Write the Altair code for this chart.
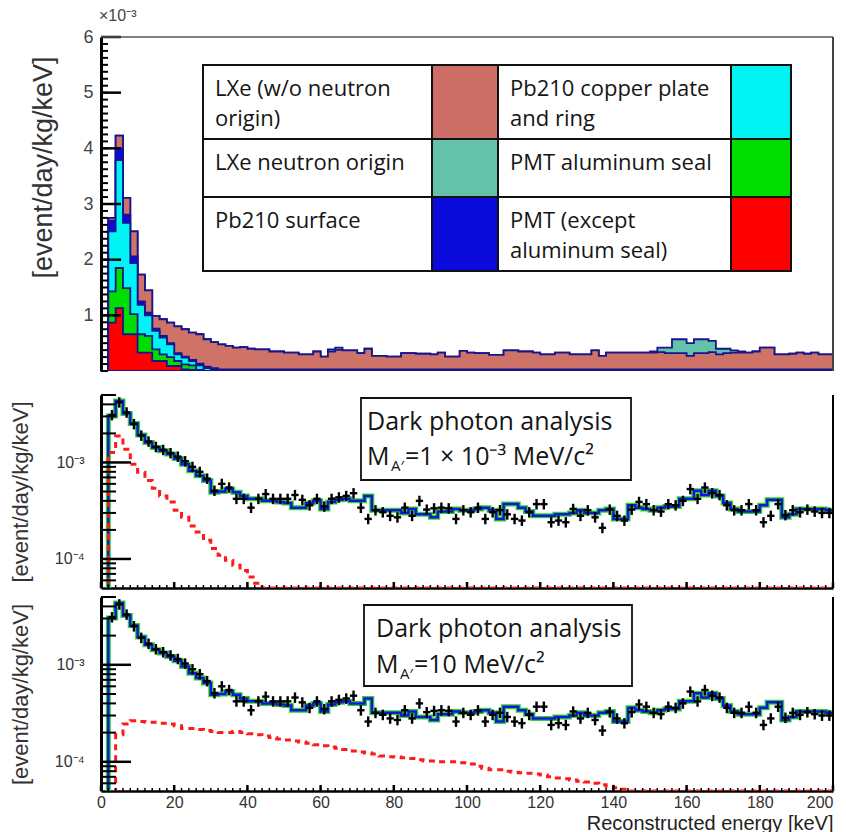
import altair as alt
import pandas as pd

# ---------------- data ----------------
bin_lo = list(range(0, 200, 2))  # 2 keV bins, lower edges

# top panel: read upper boundaries of each stacked layer (units of 1e-3)
top_total = [0.00, 2.75, 4.23, 3.11, 2.51, 1.73, 1.45, 0.99, 0.93, 0.87,
             0.80, 0.75, 0.69, 0.66, 0.57, 0.52, 0.48, 0.45, 0.42, 0.43,
             0.40, 0.39, 0.39, 0.35, 0.35, 0.33, 0.33, 0.30, 0.30, 0.35,
             0.26, 0.39, 0.42, 0.37, 0.37, 0.32, 0.40, 0.27, 0.27, 0.26,
             0.26, 0.32, 0.32, 0.31, 0.31, 0.30, 0.33, 0.26, 0.26, 0.36,
             0.33, 0.32, 0.32, 0.29, 0.29, 0.37, 0.37, 0.35, 0.35, 0.33,
             0.30, 0.30, 0.33, 0.33, 0.30, 0.30, 0.30, 0.37, 0.27, 0.33,
             0.33, 0.33, 0.33, 0.33, 0.33, 0.35, 0.42, 0.42, 0.57, 0.57,
             0.50, 0.57, 0.57, 0.54, 0.40, 0.40, 0.37, 0.35, 0.33, 0.35,
             0.42, 0.42, 0.30, 0.30, 0.31, 0.33, 0.31, 0.33, 0.30, 0.30]
top_rose = [0.00, 2.75, 4.23, 3.11, 2.51, 1.73, 1.45, 0.99, 0.93, 0.87,
            0.80, 0.75, 0.69, 0.66, 0.57, 0.52, 0.48, 0.45, 0.42, 0.43,
            0.40, 0.39, 0.39, 0.35, 0.35, 0.33, 0.33, 0.30, 0.30, 0.35,
            0.26, 0.35, 0.38, 0.37, 0.37, 0.32, 0.40, 0.27, 0.27, 0.26,
            0.26, 0.32, 0.32, 0.31, 0.31, 0.30, 0.33, 0.26, 0.26, 0.36,
            0.33, 0.32, 0.32, 0.29, 0.29, 0.37, 0.37, 0.35, 0.35, 0.33,
            0.30, 0.30, 0.33, 0.33, 0.30, 0.30, 0.30, 0.37, 0.27, 0.33,
            0.33, 0.33, 0.33, 0.33, 0.33, 0.33, 0.34, 0.32, 0.32, 0.32,
            0.27, 0.32, 0.32, 0.34, 0.30, 0.32, 0.33, 0.33, 0.33, 0.35,
            0.42, 0.42, 0.30, 0.30, 0.31, 0.33, 0.31, 0.33, 0.30, 0.30]
top_blue = [0, 2.70, 4.00, 2.81, 2.06, 1.25, 1.05, 0.76, 0.63, 0.50,
            0.32, 0.26, 0.20, 0.13, 0.08, 0.05] + [0.03] * 84
top_cyan = [0, 2.51, 3.79, 2.66, 1.94, 1.19, 1.00, 0.72, 0.60, 0.48,
            0.30, 0.24, 0.18, 0.10, 0.05, 0.02] + [0.01] * 84
top_green = [0, 1.43, 1.85, 1.49, 1.02, 0.66, 0.63, 0.39, 0.30, 0.25,
             0.18, 0.12, 0.10, 0.02] + [0.0] * 86
top_red = [0, 0.87, 1.13, 0.66, 0.66, 0.33, 0.33, 0.18, 0.18, 0.09,
           0.09, 0.03, 0.02, 0.01] + [0.0] * 86

# legend table (in reading order: column 1 then column 2)
legend_lines = [["LXe (w/o neutron", "origin)"], ["LXe neutron origin"], ["Pb210 surface"],
                ["Pb210 copper plate", "and ring"], ["PMT aluminum seal"],
                ["PMT (except", "aluminum seal)"]]
legend_colors = ["#cd6e66", "#63c2a9", "#0a0adb", "#00f4f4", "#00dd00", "#ff0000"]

# stacking, back to front
stack_tops = [top_total, top_rose, top_blue, top_cyan, top_green, top_red]
stack_colors = ["#63c2a9", "#cf7369", "#0a0adb", "#00f4f4", "#00dd00", "#ff0000"]

# log panels (units of 1e-4)
model_e4 = [0.3, 30.3, 43.3, 32.2, 25.4, 19.3, 16.1, 14.3, 13.2, 12.2,
            11.0, 9.6, 8.2, 7.3, 6.5, 4.9, 5.0, 5.3, 4.9, 4.5,
            4.2, 4.2, 4.0, 4.0, 3.9, 3.8, 3.4, 3.4, 3.8, 4.0,
            3.3, 3.9, 4.1, 4.2, 4.0, 4.0, 4.5, 3.2, 3.2, 3.2,
            3.2, 3.0, 3.3, 2.9, 2.9, 2.7, 3.1, 3.1, 3.3, 3.2,
            3.2, 3.3, 3.4, 3.2, 2.6, 3.7, 3.7, 3.4, 3.1, 2.8,
            2.8, 2.8, 2.9, 2.9, 3.0, 3.2, 3.0, 3.0, 3.2, 3.3,
            2.6, 2.6, 3.6, 3.4, 3.3, 3.2, 3.4, 3.5, 3.5, 4.2,
            4.2, 5.1, 4.6, 5.1, 4.5, 3.8, 3.3, 3.1, 3.1, 3.1,
            3.6, 4.1, 4.1, 2.7, 2.9, 3.3, 3.3, 3.3, 3.3, 3.2]
data_e4 = [None, 31, 42, 33, 25, 19, 16.5, 14.5, 13.5, 12.5,
           11.5, 10.3, 9.0, 8.0, 6.8, 5.1, 6.0, 5.5, 4.2, 4.2,
           3.4, 4.2, 4.7, 4.2, 4.2, 4.2, 4.6, 4.1, 3.6, 4.2,
           3.5, 4.2, 4.35, 4.5, 4.8, 3.4, 2.6, 3.2, 3.05, 2.8,
           2.7, 3.4, 2.8, 4.0, 3.25, 3.35, 3.4, 3.35, 2.6, 3.2,
           3.05, 3.4, 2.6, 3.05, 3.2, 2.9, 2.6, 2.5, 3.05, 3.7,
           3.7, 2.4, 2.5, 2.4, 3.3, 2.8, 3.2, 2.7, 2.1, 3.25,
           2.8, 2.5, 3.25, 3.9, 3.7, 3.2, 3.1, 3.7, 3.6, 4.0,
           5.3, 4.2, 5.5, 4.8, 4.6, 3.6, 3.2, 3.2, 3.7, 3.2,
           2.4, 2.8, 3.7, 2.85, 3.2, 3.05, 3.25, 3.1, 3.0, 3.0]
sig1_e4 = [0.3, 12.7, 18.8, 13.7, 9.6, 7.9, 6.5, 5.4, 4.5, 3.9,
           3.2, 2.7, 2.2, 1.9, 1.56, 1.28, 1.09, 0.97, 0.86, 0.76,
           0.65, 0.56, 0.5] + [0.5] * 77
sig2_e4 = [0.3, 0.3, 1.9, 2.45, 2.65, 2.6, 2.55, 2.55, 2.5, 2.45,
           2.35, 2.2, 2.2, 2.15, 2.1, 2.05, 2.0, 2.0, 2.05, 2.0,
           1.95, 1.9, 1.85, 1.78, 1.72, 1.68, 1.64, 1.6, 1.55, 1.5,
           1.46, 1.42, 1.38, 1.34, 1.29, 1.26, 1.23, 1.2, 1.15, 1.13,
           1.12, 1.1, 1.08, 1.05, 1.02, 1.02, 1.0, 1.0, 1.0, 0.98,
           0.95, 0.9, 0.86, 0.83, 0.83, 0.8, 0.78, 0.77, 0.76, 0.75,
           0.73, 0.7, 0.68, 0.67, 0.65, 0.63, 0.62, 0.6, 0.58, 0.56,
           0.54, 0.52] + [0.5] * 28

# tick positions
top_major = [1, 2, 3, 4, 5, 6]
top_minor = [i / 8 for i in range(0, 49)]
log_major = [1e-4, 1e-3]
log_minor = [6e-5, 7e-5, 8e-5, 9e-5] + [k * 1e-4 for k in range(2, 10)] + [2e-3, 3e-3, 4e-3, 5e-3]
x_major = list(range(0, 201, 20))
x_minor = list(range(0, 201, 2))

# ---------------- layout ----------------
W = 732
H_TOP, H_MID, H_BOT = 334, 193, 194
NAVY = "#16168c"
FA = "Liberation Sans"
FT = "Open Sans"
one = pd.DataFrame({"k": [0]})

xscale = alt.Scale(domain=[0, 200], nice=False, zero=False)
ytop_scale = alt.Scale(domain=[0, 6], nice=False, zero=False)
ylog_scale = alt.Scale(type="log", domain=[5e-5, 5e-3], nice=False)


def rule(x, y, x2=None, y2=None, color="black", sw=2):
    enc = dict(x=alt.value(x), y=alt.value(y))
    if x2 is not None:
        enc["x2"] = alt.value(x2)
    if y2 is not None:
        enc["y2"] = alt.value(y2)
    return alt.Chart(one).mark_rule(color=color, strokeWidth=sw).encode(**enc)


def rect(x, y, x2, y2, fill, stroke="#111", sw=2):
    return alt.Chart(one).mark_rect(fill=fill, stroke=stroke, strokeWidth=sw).encode(
        x=alt.value(x), x2=alt.value(x2), y=alt.value(y), y2=alt.value(y2))


def label(txt, x, y, size, font=FT, color="#151515"):
    return alt.Chart(one).mark_text(text=txt, align="left", baseline="alphabetic",
                                    font=font, fontSize=size, color=color).encode(
        x=alt.value(x), y=alt.value(y))


# ---------------- top panel ----------------
top_x_axis = alt.Axis(values=[100], labelOpacity=0, ticks=False, domain=False, grid=False,
                      title=None, labelFontSize=12, labelPadding=6)
top_y_axis = alt.Axis(values=top_major, ticks=False, grid=False, domainColor="black",
                      domainWidth=3, labelFont=FA, labelFontSize=18, labelColor="#444",
                      labelPadding=8, title="[event/day/kg/keV]", titleFont=FA,
                      titleFontSize=27, titleFontWeight="normal", titleColor="#333",
                      titleX=-58, titleY=130, titleBaseline="middle")


def XT(f):
    return alt.X(f"{f}:Q", scale=xscale, axis=top_x_axis)


def YT(f):
    return alt.Y(f"{f}:Q", scale=ytop_scale, axis=top_y_axis)


top_layers = []
for arr, col in zip(stack_tops, stack_colors):
    df = pd.DataFrame({"E": bin_lo + [200], "v": arr + [arr[-1]]})
    top_layers.append(alt.Chart(df).mark_area(
        interpolate="step-after", fill=col, stroke=NAVY, strokeWidth=1.8,
        opacity=1, clip=True).encode(x=XT("E"), y=YT("v")))

top_layers.append(alt.Chart(pd.DataFrame({"t": top_minor})).mark_rule(
    color="black", strokeWidth=2).encode(y=YT("t"), x=alt.value(0), x2=alt.value(7)))
top_layers.append(alt.Chart(pd.DataFrame({"t": top_major})).mark_rule(
    color="black", strokeWidth=2.5).encode(y=YT("t"), x=alt.value(0), x2=alt.value(20)))
top_layers.append(rule(0, 0, x2=W, color="#555", sw=1.5))
top_layers.append(rule(W, 0, y2=H_TOP, color="#444", sw=2))
top_layers.append(alt.Chart(one).mark_text(text="×10⁻³", align="left", baseline="middle",
                                           font=FA, fontSize=16, color="#444").encode(
    x=alt.value(-2), y=alt.value(-21)))

# legend table
col_edges = [(102, 331, 397), (397, 630, 690)]
row_edges = [(28, 102), (102, 160), (160, 234)]
for i, (lines, colr) in enumerate(zip(legend_lines, legend_colors)):
    c, r = i // 3, i % 3
    tx0, sx0, sx1 = col_edges[c]
    ry0, ry1 = row_edges[r]
    top_layers.append(rect(tx0, ry0, sx0, ry1, "white"))
    top_layers.append(rect(sx0, ry0, sx1, ry1, colr))
    for j, ln in enumerate(lines):
        top_layers.append(label(ln, tx0 + 12, ry0 + 31 + 30 * j, 22))

top = alt.layer(*top_layers).properties(width=W, height=H_TOP)


# ---------------- log panels ----------------
def log_panel(sig, H, xaxis, box, mass_lines):
    ylog_axis = alt.Axis(values=log_major,
                         labelExpr="datum.value < 0.0005 ? '10⁻⁴' : '10⁻³'",
                         ticks=False, grid=False, domainColor="black", domainWidth=3,
                         labelFont=FA, labelFontSize=16, labelColor="#333", labelPadding=17,
                         title="[event/day/kg/keV]", titleFont=FA, titleFontSize=22,
                         titleFontWeight="normal", titleColor="#333", titleX=-81,
                         titleBaseline="middle")

    def X(f):
        return alt.X(f"{f}:Q", scale=xscale, axis=xaxis)

    def Y(f):
        return alt.Y(f"{f}:Q", scale=ylog_scale, axis=ylog_axis)

    mdf = pd.DataFrame({"E": bin_lo + [200],
                        "v": [m * 1e-4 for m in model_e4 + [model_e4[-1]]]})
    sdf = pd.DataFrame({"E": bin_lo + [200], "v": [s * 1e-4 for s in sig + [sig[-1]]]})
    ddf = pd.DataFrame({"E": [b + 1 for b, d in zip(bin_lo, data_e4) if d is not None],
                        "v": [d * 1e-4 for d in data_e4 if d is not None]})
    layers = [
        alt.Chart(mdf).mark_line(interpolate="step-after", color="#2ad62a", strokeWidth=5,
                                 clip=True).encode(x=X("E"), y=Y("v")),
        alt.Chart(mdf).mark_line(interpolate="step-after", color="#1414e0", strokeWidth=2.5,
                                 clip=True).encode(x=X("E"), y=Y("v")),
        alt.Chart(sdf).mark_line(interpolate="step-after", color="#ff1a1a", strokeWidth=3,
                                 strokeDash=[6, 5], clip=True).encode(x=X("E"), y=Y("v")),
        alt.Chart(ddf).transform_calculate(e0="datum.E - 1", e1="datum.E + 1").mark_rule(
            color="black", strokeWidth=2.4).encode(x=X("e0"), x2="e1:Q", y=Y("v")),
        alt.Chart(ddf).transform_calculate(lo="datum.v * 0.88", hi="datum.v * 1.13").mark_rule(
            color="black", strokeWidth=2.4).encode(x=X("E"), y=Y("lo"), y2="hi:Q"),
        alt.Chart(pd.DataFrame({"t": log_minor})).mark_rule(color="black", strokeWidth=2).encode(
            y=Y("t"), x=alt.value(0), x2=alt.value(15)),
        alt.Chart(pd.DataFrame({"t": log_major})).mark_rule(color="black", strokeWidth=2.5).encode(
            y=Y("t"), x=alt.value(0), x2=alt.value(30)),
        alt.Chart(pd.DataFrame({"t": x_minor})).mark_rule(color="black", strokeWidth=1.5).encode(
            x=X("t"), y=alt.value(H), y2=alt.value(H - 3)),
        alt.Chart(pd.DataFrame({"t": x_major})).mark_rule(color="black", strokeWidth=2.5).encode(
            x=X("t"), y=alt.value(H), y2=alt.value(H - 6)),
        rule(W, 0, y2=H, color="black", sw=2),
    ]
    bx0, by0, bx1, by1, tx, ty1, ty2 = box
    layers.append(rect(bx0, by0, bx1, by1, "white", stroke="#111", sw=1.8))
    layers.append(label("Dark photon analysis", tx, ty1, 25))
    layers.append(label("M", tx, ty2, 25))
    layers.append(label("A′", tx + 24, ty2 + 6, 15))
    layers.append(label(mass_lines, tx + 38, ty2, 25))
    return alt.layer(*layers).properties(width=W, height=H)


xmid_axis = alt.Axis(labels=False, ticks=False, domain=True, domainColor="black",
                     domainWidth=2.5, title=None, grid=False)
xbot_axis = alt.Axis(values=x_major, ticks=False, domainColor="black", domainWidth=2.5,
                     labelFont=FA, labelFontSize=16, labelColor="#333", labelPadding=3,
                     labelFlush=False,
                     labelAlign={"condition": {"test": "datum.value >= 200", "value": "right"},
                                 "value": "center"},
                     title="Reconstructed energy [keV]", titleFont=FA,
                     titleFontSize=20, titleFontWeight="normal", titleColor="#222",
                     titleAnchor="end", titlePadding=3, grid=False)

mid = log_panel(sig1_e4, H_MID, xmid_axis, (260, 3, 530, 85, 266, 35, 70), "=1 × 10⁻³ MeV/c²")
bot = log_panel(sig2_e4, H_BOT, xbot_axis, (263, 8, 531, 89, 275, 40, 76), "=10 MeV/c²")

chart = alt.vconcat(top, mid, bot, spacing=6).configure_view(stroke=None).properties(
    background="white", padding=0)

chart.save("out.html", embed_options={"renderer": "svg", "actions": False})
